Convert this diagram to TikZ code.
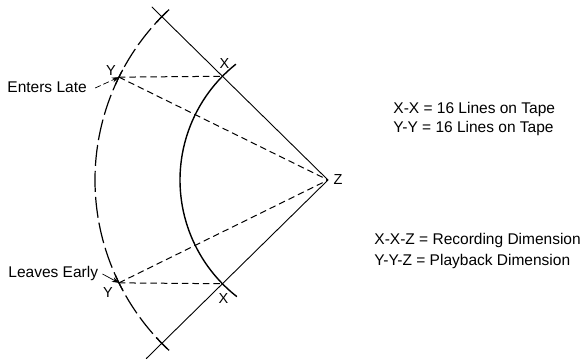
\documentclass[tikz,border=0pt]{standalone}
\usepackage{fontspec}
\setmainfont{Liberation Sans}
\usetikzlibrary{arrows.meta}
\begin{document}
\begin{tikzpicture}[
        x=1pt, y=1pt,
        declare function={
            % radius of the recording arc (through X)
            rx = 148;
            % radius of the playback arc (through Y)
            ry = 233;
        },
        txt/.style={inner sep=0pt, font=\fontsize{15.5}{17}\selectfont},
        ptlbl/.style={inner sep=0pt, font=\fontsize{14.5}{16}\selectfont},
        track/.style={line width=1pt, dash pattern=on 6.5pt off 4pt},
        pointer/.style={line width=0.7pt, -{Stealth[length=7pt, width=5pt]}},
        line width=0.9pt
    ]
        % Frame
        \useasboundingbox (0,0) rectangle (583,360);

        % Centre and points on the arcs
        \coordinate (Z) at (328,180);
        \path (Z) ++(135.5:247) coordinate (Ltop);
        \path (Z) ++(224.5:255) coordinate (Lbot);
        \path (Z) ++(135.5:{rx}) coordinate (Xu);
        \path (Z) ++(224.5:{rx}) coordinate (Xl);
        \path (Z) ++(153.8:{ry}) coordinate (Yu);
        \path (Z) ++(206.2:{ry}) coordinate (Yl);

        % Radial lines
        \draw (Z) -- (Ltop);
        \draw (Z) -- (Lbot);

        % Recording arc
        \draw[line width=1.4pt] (Z) ++(128.5:{rx}) arc[start angle=128.5, end angle=232, radius={rx}];

        % Playback arc, broken
        \draw[line width=1.2pt, dash pattern=on 21pt off 5pt] (Z) ++(133:{ry}) arc[start angle=133, end angle=227, radius={ry}];
        \foreach \a in {135.5, 153.8, 206.2, 224.5}
            \draw[line width=1.2pt] (Z) ++(\a-2:{ry}) arc[start angle=\a-2, end angle=\a+2, radius={ry}];

        % Tape lines
        \draw[track] (Yu) -- (Xu);
        \draw[track] (Yu) -- (Z);
        \draw[track] (Yl) -- (Xl);
        \draw[track] (Yl) -- (Z);

        % Point labels
        \node[ptlbl, xshift=-8pt, yshift=7pt] (yu) at (Yu) {Y};
        \node[ptlbl, xshift=-11pt, yshift=-10pt] (yl) at (Yl) {Y};
        \node[ptlbl, xshift=2pt, yshift=13pt] (xu) at (Xu) {X};
        \node[ptlbl, xshift=1pt, yshift=-15pt] (xl) at (Xl) {X};
        \node[ptlbl, xshift=10pt] (z) at (Z) {Z};

        % Pointers
        \node[txt, anchor=west] (enters) at (7,273) {Enters Late};
        \node[txt, anchor=west] (leaves) at (8,87) {Leaves Early};
        \draw[pointer, dash pattern=on 6pt off 3pt] ([xshift=8pt, yshift=-1pt]enters.east) -- (Yu);
        \draw[pointer] ([xshift=4pt, yshift=-1pt]leaves.east) -- (Yl);

        % Legend
        \node[txt, anchor=west] (xx) at (393,251) {X-X = 16 Lines on Tape};
        \node[txt, anchor=west] (yy) at (393,232) {Y-Y = 16 Lines on Tape};
        \node[txt, anchor=west] (xxz) at (374,120) {X-X-Z = Recording Dimension};
        \node[txt, anchor=west] (yyz) at (374,99) {Y-Y-Z = Playback Dimension};
    \end{tikzpicture}
\end{document}
